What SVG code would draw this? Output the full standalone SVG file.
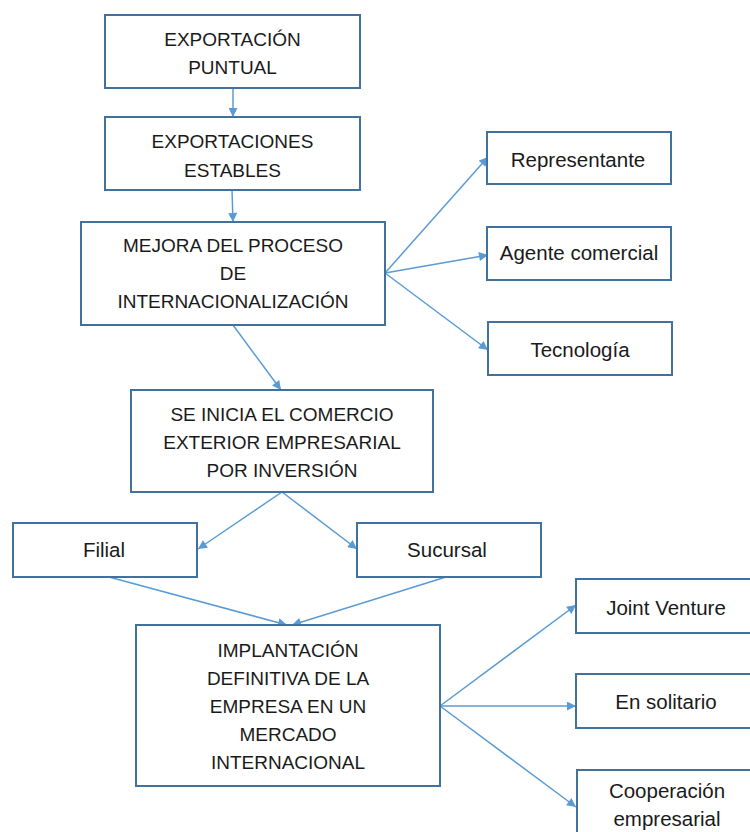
<svg xmlns="http://www.w3.org/2000/svg" width="750" height="832" viewBox="0 0 750 832">
<style>
.box{fill:#fff;stroke:#41719C;stroke-width:2}
.t{font-family:"Liberation Sans",Arial,sans-serif;font-size:19px;fill:#1a1a1a;text-anchor:middle}
.l{font-size:20.5px}
.c{stroke:#5B9BD5;stroke-width:1.5;fill:none;marker-end:url(#ah)}
</style>
<defs>
<marker id="ah" viewBox="0 0 10 10" refX="10" refY="5" markerWidth="10" markerHeight="9" markerUnits="userSpaceOnUse" orient="auto">
<path d="M0,0 L10,5 L0,10 z" fill="#5B9BD5"/>
</marker>
</defs>
<rect width="750" height="832" fill="#fff"/>
<g id="connectors">
<line class="c" x1="233" y1="88" x2="233" y2="117"/>
<line class="c" x1="232" y1="190" x2="233" y2="222"/>
<line class="c" x1="385" y1="273" x2="488" y2="157"/>
<line class="c" x1="385" y1="273" x2="488" y2="255"/>
<line class="c" x1="385" y1="273" x2="488" y2="350"/>
<line class="c" x1="233" y1="325" x2="281" y2="390"/>
<line class="c" x1="282" y1="492" x2="198" y2="549"/>
<line class="c" x1="282" y1="492" x2="357" y2="549"/>
<line class="c" x1="109" y1="577" x2="287" y2="625"/>
<line class="c" x1="446" y1="577" x2="292" y2="625"/>
<line class="c" x1="440" y1="706" x2="576" y2="605"/>
<line class="c" x1="440" y1="706" x2="576" y2="706"/>
<line class="c" x1="440" y1="706" x2="576" y2="807"/>
</g>
<g id="n1"><rect class="box" x="105" y="15" width="255" height="73"/>
<text class="t" x="232.5" y="46">EXPORTACIÓN</text><text class="t" x="232.5" y="74">PUNTUAL</text></g>
<g id="n2"><rect class="box" x="105" y="117" width="255" height="73"/>
<text class="t" x="232.5" y="148">EXPORTACIONES</text><text class="t" x="232.5" y="177">ESTABLES</text></g>
<g id="n3"><rect class="box" x="81" y="222" width="304" height="103"/>
<text class="t" x="233" y="252">MEJORA DEL PROCESO</text><text class="t" x="233" y="280">DE</text><text class="t" x="233" y="308">INTERNACIONALIZACIÓN</text></g>
<g id="n4"><rect class="box" x="487" y="132" width="184" height="52"/>
<text class="t l" x="578" y="167">Representante</text></g>
<g id="n5"><rect class="box" x="487" y="227" width="184" height="53"/>
<text class="t l" x="579" y="260">Agente comercial</text></g>
<g id="n6"><rect class="box" x="488" y="322" width="184" height="53"/>
<text class="t l" x="580" y="357">Tecnología</text></g>
<g id="n7"><rect class="box" x="131" y="390" width="302" height="102"/>
<text class="t" x="282" y="421">SE INICIA EL COMERCIO</text><text class="t" x="282" y="449">EXTERIOR EMPRESARIAL</text><text class="t" x="282" y="477">POR INVERSIÓN</text></g>
<g id="n8"><rect class="box" x="13" y="523" width="184" height="54"/>
<text class="t l" x="104" y="557">Filial</text></g>
<g id="n9"><rect class="box" x="357" y="523" width="184" height="54"/>
<text class="t l" x="447" y="557">Sucursal</text></g>
<g id="n10"><rect class="box" x="136" y="625" width="304" height="161"/>
<text class="t" x="288" y="657">IMPLANTACIÓN</text><text class="t" x="288" y="685">DEFINITIVA DE LA</text><text class="t" x="288" y="713">EMPRESA EN UN</text><text class="t" x="288" y="741">MERCADO</text><text class="t" x="288" y="769">INTERNACIONAL</text></g>
<g id="n11"><rect class="box" x="576" y="579" width="180" height="54"/>
<text class="t l" x="666" y="615">Joint Venture</text></g>
<g id="n12"><rect class="box" x="576" y="674" width="180" height="54"/>
<text class="t l" x="666" y="709">En solitario</text></g>
<g id="n13"><rect class="box" x="577" y="770" width="180" height="80"/>
<text class="t l" x="667" y="798">Cooperación</text><text class="t l" x="667" y="826">empresarial</text></g>
</svg>
